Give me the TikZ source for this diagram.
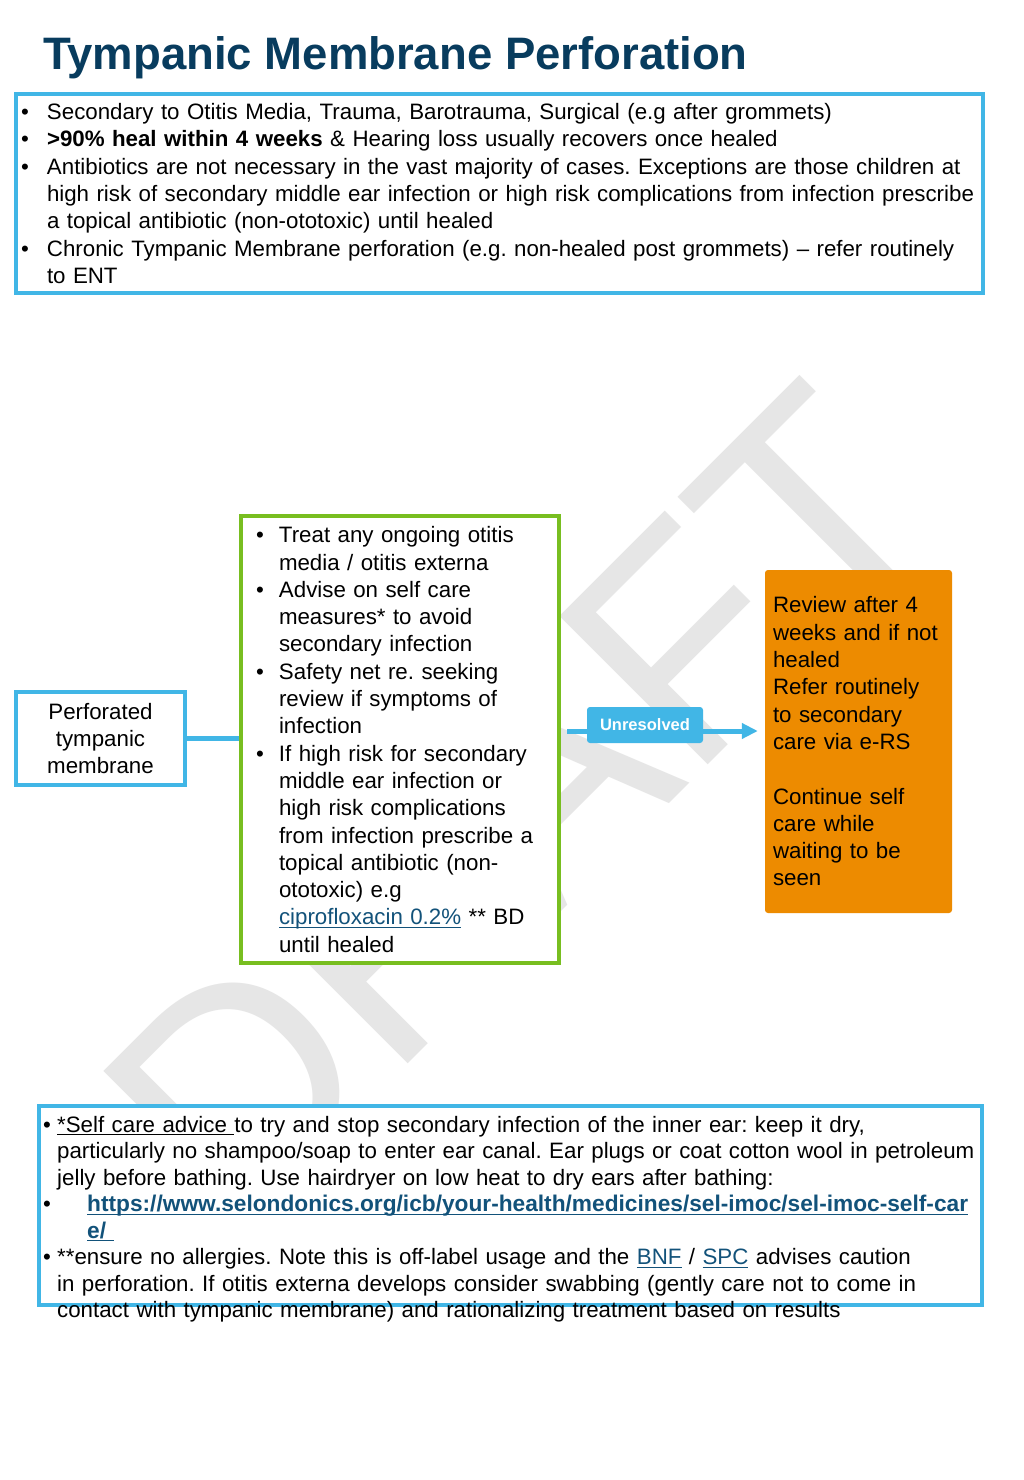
\documentclass[tikz,border=0pt]{standalone}
\usepackage{fontspec}
\setmainfont{Liberation Sans}
\usetikzlibrary{shapes.geometric, arrows.meta}
\frenchspacing

\definecolor{nhsblue}{RGB}{65,182,230}
\definecolor{nhsgreen}{RGB}{120,190,32}
\definecolor{nhsorange}{RGB}{237,139,0}
\definecolor{titleblue}{RGB}{8,60,94}
\definecolor{linkblue}{RGB}{18,82,122}
\definecolor{draftgrey}{RGB}{230,230,230}

\newcommand{\undl}[1]{\setbox0\hbox{#1}\rlap{\rule[-3pt]{\wd0}{1.3pt}}\box0}
\newcommand{\bul}[1][26pt]{\makebox[#1][l]{\textbullet}}
\newcommand{\bpad}[1][26pt]{\hspace*{#1}}
\newcommand{\urlbit}[1]{{\fontsize{22.7}{26.5}\selectfont\bfseries\color{linkblue}\undl{#1}}}

\tikzstyle{infobox} = [rectangle, draw=nhsblue, line width=4pt, fill=white, text=black]
\tikzstyle{stepbox} = [rectangle, draw=nhsgreen, line width=4pt, fill=white, text=black]
\tikzstyle{outcome} = [rectangle, rounded corners=3pt, fill=nhsorange, text=black]
\tikzstyle{body} = [font=\fontsize{22.3}{27.3}\selectfont]
\tikzstyle{link} = [line width=5pt, draw=nhsblue]
\tikzstyle{flowarrow} = [line width=5pt, draw=nhsblue, -{Triangle[length=16pt,width=15pt]}]

\begin{document}
\begin{tikzpicture}[x=1pt, y=-1pt]

\fill[white] (0,0) rectangle (1024,1480);
\useasboundingbox (0,0) rectangle (1024,1480);

% watermark
\node (draft) [rotate=45, inner sep=0, text=draftgrey, font=\fontsize{305}{305}\selectfont] at (520,804) {DRAFT};

\node (title) [anchor=base west, inner sep=0, text=titleblue, font=\fontsize{45.5}{54}\selectfont\bfseries] at (43,70) {Tympanic Membrane Perforation};

\node (facts) [infobox, body, minimum width=967pt, minimum height=199pt, text width=957pt, inner xsep=5pt, align=left] at (499.5,193.5) {%
\bul Secondary to Otitis Media, Trauma, Barotrauma, Surgical (e.g after grommets)\\
\bul\textbf{>90\% heal within 4 weeks} \& Hearing loss usually recovers once healed\\
\bul Antibiotics are not necessary in the vast majority of cases. Exceptions are those children at\\
\bpad high risk of secondary middle ear infection or high risk complications from infection prescribe\\
\bpad a topical antibiotic (non-ototoxic) until healed\\
\bul Chronic Tympanic Membrane perforation (e.g. non-healed post grommets) – refer routinely\\
\bpad to ENT};

\node (perf) [infobox, body, minimum width=169pt, minimum height=93pt, align=center] at (100.5,738.5) {Perforated\\tympanic\\membrane};

\node (care) [stepbox, body, minimum width=318pt, minimum height=447pt, text width=288pt, inner xsep=15pt, align=left] at (400,739.5) {%
\bul[23pt]Treat any ongoing otitis\\
\bpad[23pt]media / otitis externa\\
\bul[23pt]Advise on self care\\
\bpad[23pt]measures* to avoid\\
\bpad[23pt]secondary infection\\
\bul[23pt]Safety net re. seeking\\
\bpad[23pt]review if symptoms of\\
\bpad[23pt]infection\\
\bul[23pt]If high risk for secondary\\
\bpad[23pt]middle ear infection or\\
\bpad[23pt]high risk complications\\
\bpad[23pt]from infection prescribe a\\
\bpad[23pt]topical antibiotic (non-\\
\bpad[23pt]ototoxic) e.g\\
\bpad[23pt]\textcolor{linkblue}{\undl{ciprofloxacin 0.2\%}} ** BD\\
\bpad[23pt]until healed};

\node (review) [outcome, body, minimum width=187pt, minimum height=343pt, text width=171pt, inner xsep=8pt, align=left] at (858.5,741.5) {Review after 4\\weeks and if not\\healed\\Refer routinely\\to secondary\\care via e-RS\\[27.3pt]Continue self\\care while\\waiting to be\\seen};

\draw [link] (perf.east) -- (perf.east -| care.west);

\coordinate (fork) at (567,731);
\draw [flowarrow, shorten >=7pt] (fork) -- (fork -| review.west);
\node (unres) [rectangle, rounded corners=3pt, fill=nhsblue, text=white, inner sep=0, minimum width=116pt, minimum height=36pt, font=\fontsize{16.5}{20}\selectfont\bfseries] at (645,725) {Unresolved};

\node (selfcare) [infobox, minimum width=943pt, minimum height=199pt] at (510.5,1205.5) {};
\node (selftxt) [anchor=north west, inner sep=0, text width=950pt, align=left, font=\fontsize{22.3}{26.5}\selectfont] at (43,1116) {%
\bul[14pt]\undl{*Self care advice }to try and stop secondary infection of the inner ear: keep it dry,\\
\bpad[14pt]particularly no shampoo/soap to enter ear canal. Ear plugs or coat cotton wool in petroleum\\
\bpad[14pt]jelly before bathing. Use hairdryer on low heat to dry ears after bathing:\\
\bul[44pt]\urlbit{https://www.selondonics.org/icb/your-health/medicines/sel-imoc/sel-imoc-self-car}\\
\bpad[44pt]\urlbit{e/ }\\
\bul[14pt]**ensure no allergies. Note this is off-label usage and the \textcolor{linkblue}{\undl{BNF}} / \textcolor{linkblue}{\undl{SPC}} advises caution\\
\bpad[14pt]in perforation. If otitis externa develops consider swabbing (gently care not to come in\\
\bpad[14pt]contact with tympanic membrane) and rationalizing treatment based on results};

\end{tikzpicture}
\end{document}
